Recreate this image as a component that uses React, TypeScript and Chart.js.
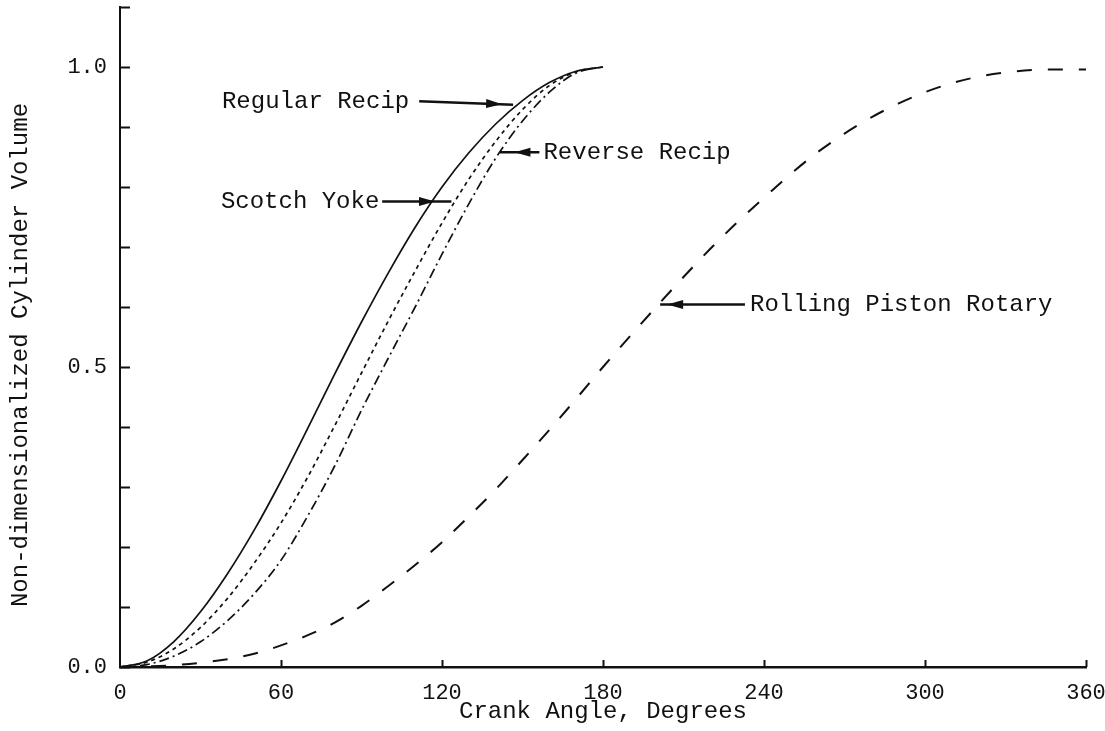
import React, { useEffect, useRef } from 'react';
import { Chart, registerables } from 'chart.js';

Chart.register(...registerables);

// ---- data ----
const anglesHalf = [0, 10, 20, 30, 40, 50, 60, 70, 80, 90, 100, 110, 120, 130, 140, 150, 160, 170, 180];
const regularRecip = [0, 0.01, 0.042, 0.092, 0.155, 0.228, 0.31, 0.398, 0.488, 0.575, 0.657, 0.733, 0.8, 0.857, 0.905, 0.944, 0.974, 0.993, 1.0];
const scotchYoke = [0, 0.008, 0.03, 0.066, 0.114, 0.173, 0.24, 0.317, 0.402, 0.49, 0.577, 0.66, 0.74, 0.813, 0.876, 0.929, 0.969, 0.992, 1.0];
const reverseRecip = [0, 0.004, 0.018, 0.042, 0.077, 0.122, 0.178, 0.252, 0.335, 0.428, 0.515, 0.6, 0.688, 0.772, 0.848, 0.91, 0.958, 0.99, 1.0];

const anglesFull = [0, 10, 20, 30, 40, 50, 60, 70, 80, 90, 100, 110, 120, 130, 140, 150, 160, 170, 180,
  190, 200, 210, 220, 230, 240, 250, 260, 270, 280, 290, 300, 310, 320, 330, 340, 350, 360];
const rollingPiston = [0, 0.001, 0.003, 0.007, 0.013, 0.022, 0.036, 0.053, 0.074, 0.102, 0.135, 0.17, 0.208, 0.251, 0.296, 0.345, 0.395, 0.447, 0.5,
  0.551, 0.601, 0.65, 0.697, 0.741, 0.782, 0.822, 0.858, 0.889, 0.916, 0.939, 0.958, 0.973, 0.984, 0.991, 0.995, 0.996, 0.996];

const xTickStep = 60;
const yTickStep = 0.1;
const yLabelled = [0, 0.5, 1.0];

const xTitle = 'Crank Angle, Degrees';
const yTitle = 'Non-dimensionalized Cylinder Volume';

// annotation labels: label anchor (left edge, middle), arrow line from/to, arrowhead apex (data units)
const annotations = [
  { text: 'Regular Recip', at: [38, 0.943], from: [111.5, 0.943], to: [146.5, 0.937], head: [142.4, 0.938] },
  { text: 'Scotch Yoke', at: [37.6, 0.776], from: [97.7, 0.776], to: [123.5, 0.776], head: [117.4, 0.776] },
  { text: 'Reverse Recip', at: [157.8, 0.858], from: [156.3, 0.858], to: [141.6, 0.858], head: [147.0, 0.858] },
  { text: 'Rolling Piston Rotary', at: [234.8, 0.604], from: [232.9, 0.604], to: [201.3, 0.604], head: [203.9, 0.604] },
];

const FONT = "'Liberation Mono', 'DejaVu Sans Mono', monospace";
const INK = '#111';

const pts = (xs: number[], ys: number[]) => xs.map((x, i) => ({ x, y: ys[i] }));

const decorPlugin = {
  id: 'decor',
  afterDraw(chart: any) {
    const { ctx, chartArea, scales } = chart;
    const xs = scales.x;
    const ys = scales.y;
    ctx.save();
    ctx.strokeStyle = INK;
    ctx.fillStyle = INK;
    // inward tick marks
    ctx.lineWidth = 2;
    ys.ticks.forEach((t: any) => {
      const py = Math.round(ys.getPixelForValue(t.value)) + 0.5;
      ctx.beginPath();
      ctx.moveTo(chartArea.left, py);
      ctx.lineTo(chartArea.left + 10, py);
      ctx.stroke();
    });
    xs.ticks.forEach((t: any) => {
      if (t.value === 0) return;
      const px = Math.round(xs.getPixelForValue(t.value)) + 0.5;
      ctx.beginPath();
      ctx.moveTo(px, chartArea.bottom);
      ctx.lineTo(px, chartArea.bottom - 7);
      ctx.stroke();
    });

    // y axis title
    ctx.save();
    ctx.font = `24px ${FONT}`;
    ctx.textAlign = 'center';
    ctx.textBaseline = 'middle';
    ctx.translate(chartArea.left - 99, (chartArea.top + chartArea.bottom) / 2 + 18);
    ctx.rotate(-Math.PI / 2);
    ctx.fillText(yTitle, 0, 0);
    ctx.restore();

    // annotations
    ctx.font = `24px ${FONT}`;
    ctx.textAlign = 'left';
    ctx.textBaseline = 'middle';
    annotations.forEach((a) => {
      const tx = xs.getPixelForValue(a.at[0]);
      const ty = ys.getPixelForValue(a.at[1]);
      ctx.fillText(a.text, tx, ty);
      const x0 = xs.getPixelForValue(a.from[0]);
      const y0 = ys.getPixelForValue(a.from[1]);
      const x1 = xs.getPixelForValue(a.to[0]);
      const y1 = ys.getPixelForValue(a.to[1]);
      const hx = xs.getPixelForValue(a.head[0]);
      const hy = ys.getPixelForValue(a.head[1]);
      ctx.lineWidth = 2.5;
      ctx.beginPath();
      ctx.moveTo(x0, y0);
      ctx.lineTo(x1, y1);
      ctx.stroke();
      const ang = Math.atan2(y1 - y0, x1 - x0);
      const L = 16;
      const W = 4.5;
      const bx = hx - Math.cos(ang) * L;
      const by = hy - Math.sin(ang) * L;
      ctx.beginPath();
      ctx.moveTo(hx, hy);
      ctx.lineTo(bx - Math.sin(ang) * W, by + Math.cos(ang) * W);
      ctx.lineTo(bx + Math.sin(ang) * W, by - Math.cos(ang) * W);
      ctx.closePath();
      ctx.fill();
    });
    ctx.restore();
  },
};

const zeroPad = (s: any) => {
  s.paddingTop = 0;
  s.paddingBottom = 0;
  s.paddingLeft = 0;
  s.paddingRight = 0;
};

export default function App() {
  const ref = useRef<HTMLCanvasElement>(null);
  useEffect(() => {
    if (!ref.current) return;
    Chart.defaults.font.family = FONT;
    Chart.defaults.color = INK;
    const common = { pointRadius: 0, borderColor: INK, fill: false, cubicInterpolationMode: 'monotone' as const };
    const chart = new Chart(ref.current, {
      type: 'line',
      data: {
        datasets: [
          { ...common, label: 'Regular Recip', data: pts(anglesHalf, regularRecip), borderWidth: 1.7 },
          { ...common, label: 'Scotch Yoke', data: pts(anglesHalf, scotchYoke), borderWidth: 1.7, borderDash: [4, 4] },
          { ...common, label: 'Reverse Recip', data: pts(anglesHalf, reverseRecip), borderWidth: 1.7, borderDash: [10, 4, 2, 4] },
          { ...common, label: 'Rolling Piston Rotary', data: pts(anglesFull, rollingPiston), borderWidth: 2, borderDash: [15, 16] },
        ],
      },
      options: {
        animation: false,
        responsive: true,
        maintainAspectRatio: false,
        layout: { padding: { top: 7, right: 19, left: 0, bottom: 0 } },
        plugins: { legend: { display: false }, tooltip: { enabled: false } },
        scales: {
          x: {
            type: 'linear',
            min: 0,
            max: 360,
            grid: { display: false, drawTicks: false },
            border: { display: true, color: INK, width: 2.5 },
            ticks: { stepSize: xTickStep, autoSkip: false, maxRotation: 0, padding: 13, color: INK, font: { size: 22 } },
            title: { display: true, text: xTitle, color: INK, font: { size: 24 }, padding: { top: 0, bottom: 5 } },
            afterFit: (s: any) => { s.height = 64; zeroPad(s); },
          },
          y: {
            type: 'linear',
            min: 0,
            max: 1.1,
            grid: { display: false, drawTicks: false },
            border: { display: true, color: INK, width: 2 },
            ticks: {
              stepSize: yTickStep,
              autoSkip: false,
              padding: 13,
              color: INK,
              font: { size: 22 },
              callback: (v: any) => (yLabelled.some((l) => Math.abs(l - Number(v)) < 1e-6) ? Number(v).toFixed(1) : ''),
            },
            afterFit: (s: any) => { s.width = 120; zeroPad(s); },
          },
        },
      },
      plugins: [decorPlugin],
    });
    return () => chart.destroy();
  }, []);
  return (
    <div style={{ position: 'fixed', left: 0, top: 0, width: 1105, height: 731, background: '#fff' }}>
      <canvas ref={ref} />
    </div>
  );
}
